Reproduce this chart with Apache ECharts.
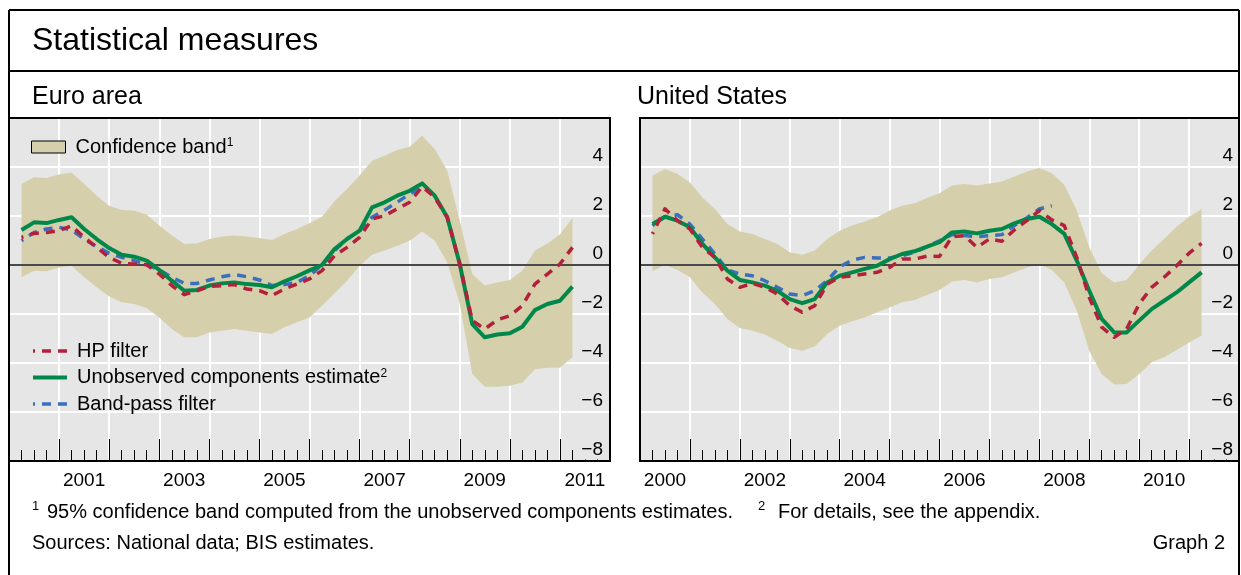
<!DOCTYPE html>
<html>
<head>
<meta charset="utf-8">
<script src="https://cdn.jsdelivr.net/npm/echarts@6/dist/echarts.min.js"></script>
<style>
html,body{margin:0;padding:0;background:#fff;}
#chart{width:1241px;height:575px;}
</style>
</head>
<body>
<div id="chart"></div>
<script>
// ---------- categories ----------
const lastQuarter = '2011Q1';
const quarters = [];
for (let y = 2000; y <= 2011; y++) {
  for (let q = 1; q <= 4; q++) {
    const s = y + 'Q' + q;
    quarters.push(s);
    if (s === lastQuarter) break;
  }
}
// quarterly observations plotted at quarter end
function qx(label) { return +label.slice(0, 4) + (+label.slice(5)) / 4; }

// ---------- tick labels ----------
const eaYearLabels = [2001, 2003, 2005, 2007, 2009, 2011];
const usYearLabels = [2000, 2002, 2004, 2006, 2008, 2010];

// ---------- Euro area ----------
const eaHP = [1.13,1.29,1.33,1.40,1.60,1.13,0.72,0.31,0.07,0.04,0.01,-0.37,-0.84,-1.21,-1.05,-0.88,-0.84,-0.80,-0.98,-1.05,-1.25,-0.98,-0.78,-0.57,
              -0.23,0.38,0.72,1.13,1.88,2.01,2.29,2.56,3.20,2.76,1.95,0.04,-2.27,-2.61,-2.24,-2.07,-1.66,-0.78,-0.37,0.04,0.72];
const eaUC = [1.43,1.74,1.71,1.84,1.95,1.47,1.06,0.69,0.42,0.34,0.18,-0.20,-0.64,-1.05,-1.02,-0.84,-0.75,-0.71,-0.78,-0.82,-0.91,-0.67,-0.46,-0.22,
              0.00,0.65,1.06,1.40,2.35,2.56,2.83,3.03,3.33,2.83,1.95,0.04,-2.41,-2.95,-2.84,-2.79,-2.52,-1.84,-1.59,-1.46,-0.88];
const eaBP = [0.99,1.33,1.47,1.54,1.43,1.06,0.75,0.48,0.31,0.18,0.01,-0.20,-0.50,-0.75,-0.75,-0.61,-0.48,-0.39,-0.48,-0.61,-0.84,-0.80,-0.71,-0.44,
              0.01,0.59,1.06,1.40,1.95,2.24,2.56,2.90,3.15];
const eaBandHigh = [3.31,3.58,3.55,3.69,3.78,3.31,2.83,2.42,2.24,2.22,2.05,1.61,1.20,0.86,0.88,1.06,1.16,1.20,1.16,1.10,1.02,1.27,1.47,1.70,
                    1.97,2.60,3.10,3.65,4.26,4.46,4.69,4.83,5.28,4.73,3.85,1.81,-0.37,-0.84,-0.71,-0.61,-0.23,0.59,0.88,1.24,1.92];
const eaBandLow = [-0.50,-0.23,-0.26,-0.10,-0.03,-0.50,-0.91,-1.29,-1.52,-1.59,-1.76,-2.14,-2.61,-2.95,-2.95,-2.75,-2.68,-2.61,-2.68,-2.75,-2.82,-2.54,-2.34,-2.14,
                   -1.66,-1.15,-0.64,-0.03,0.42,0.59,0.79,0.99,1.37,0.99,0.11,-1.59,-4.45,-4.97,-4.97,-4.93,-4.80,-4.26,-4.19,-4.19,-3.77];

// ---------- United States ----------
const usHP = [1.27,2.29,1.81,1.47,0.72,0.31,-0.57,-0.91,-0.75,-0.91,-1.18,-1.66,-1.93,-1.66,-0.78,-0.50,-0.44,-0.37,-0.30,-0.10,0.24,0.24,0.36,
              0.35,1.16,1.20,0.72,1.06,0.97,1.43,1.81,2.22,1.84,1.61,0.31,-1.32,-2.54,-2.95,-2.61,-1.59,-0.91,-0.50,-0.03,0.48,0.88];
const usUC = [1.67,1.97,1.81,1.54,0.86,0.31,-0.23,-0.61,-0.71,-0.84,-1.05,-1.39,-1.56,-1.39,-0.71,-0.44,-0.30,-0.16,-0.03,0.24,0.45,0.56,0.75,
              0.93,1.33,1.37,1.29,1.40,1.47,1.70,1.88,1.97,1.67,1.27,0.18,-1.05,-2.20,-2.75,-2.75,-2.27,-1.80,-1.46,-1.12,-0.71,-0.30];
const usBP = [1.61,1.97,2.05,1.67,1.06,0.45,-0.20,-0.37,-0.44,-0.64,-0.91,-1.18,-1.25,-1.05,-0.64,-0.07,0.20,0.31,0.29,0.29,0.38,0.52,0.75,
              0.99,1.24,1.20,1.16,1.20,1.24,1.61,1.92,2.29,2.42];
const usBandHigh = [3.65,3.92,3.71,3.37,2.76,2.29,1.67,1.37,1.27,1.06,0.86,0.52,0.42,0.59,1.06,1.40,1.61,1.78,1.95,2.22,2.42,2.52,2.73,
                    2.93,3.24,3.31,3.24,3.33,3.41,3.61,3.82,3.96,3.74,3.28,2.22,0.72,-0.34,-0.71,-0.61,0.01,0.59,1.06,1.56,1.97,2.29];
const usBandLow = [-0.26,0.01,-0.20,-0.50,-1.12,-1.59,-2.20,-2.57,-2.68,-2.84,-3.09,-3.39,-3.50,-3.33,-2.82,-2.48,-2.30,-2.14,-1.93,-1.73,-1.52,-1.43,-1.22,
                   -1.02,-0.67,-0.61,-0.71,-0.57,-0.50,-0.30,-0.10,0.04,-0.20,-0.71,-1.86,-3.50,-4.45,-4.88,-4.86,-4.45,-3.97,-3.77,-3.47,-3.16,-2.88];

// ---------- styles ----------
const FONT = '"Liberation Sans", Arial, Helvetica, sans-serif';
const BG = '#e6e6e6';
const BAND = '#d5cfab';
const GREEN = '#00884b';
const RED = '#b3203b';
const BLUE = '#3a6fbf';
const ZERO = '#4a4a4a';
const DASH = [9, 7];

function pairs(values) { return values.map((v, i) => [qx(quarters[i]), v]); }

function bandSeries(gi, high, low) {
  return {
    type: 'custom', name: 'Confidence band', xAxisIndex: gi, yAxisIndex: gi,
    silent: true, animation: false, clip: true,
    itemStyle: { color: BAND },
    data: high.map((h, i) => [qx(quarters[i]), low[i], h]),
    encode: { x: 0, y: [1, 2] },
    renderItem: function (params, api) {
      if (params.dataIndex !== 0) return null;
      const pts = [];
      for (let i = 0; i < high.length; i++) pts.push(api.coord([qx(quarters[i]), high[i]]));
      for (let i = low.length - 1; i >= 0; i--) pts.push(api.coord([qx(quarters[i]), low[i]]));
      return { type: 'polygon', shape: { points: pts }, style: { fill: BAND } };
    }
  };
}
function zeroSeries(gi) {
  return {
    type: 'line', name: 'zero', xAxisIndex: gi, yAxisIndex: gi, silent: true, animation: false,
    symbol: 'none', data: [[2000, 0], [2012, 0]],
    lineStyle: { color: ZERO, width: 2 }, emphasis: { disabled: true }
  };
}
function lineSeries(gi, name, values, color, width, dashed) {
  return {
    type: 'line', name: name, xAxisIndex: gi, yAxisIndex: gi, silent: true, animation: false,
    symbol: 'none', showSymbol: false, data: pairs(values),
    itemStyle: { color: color },
    lineStyle: { color: color, width: width, type: dashed ? DASH : 'solid', dashOffset: dashed ? 7 : 0, cap: 'butt', join: 'round' },
    emphasis: { disabled: true }
  };
}

function xAxis(gi, labels) {
  return {
    type: 'value', gridIndex: gi, position: 'bottom', min: 2000, max: 2012, interval: 1, z: 0,
    axisLine: { show: false, onZero: false },
    axisTick: { show: true, inside: true, length: 22, lineStyle: { color: '#000', width: 1 } },
    minorTick: { show: true, splitNumber: 4, length: 11, lineStyle: { color: '#000', width: 1 } },
    splitLine: { show: true, lineStyle: { color: '#fff', width: 2 } },
    axisLabel: {
      customValues: labels, formatter: v => String(Math.round(v)),
      color: '#000', fontSize: 19, lineHeight: 19, fontFamily: FONT, margin: 10,
      padding: [0, 0, 0, 50]
    }
  };
}
function yAxis(gi, margin) {
  return {
    type: 'value', gridIndex: gi, position: 'right', min: -8, max: 6, interval: 2, z: 1,
    axisLine: { show: false, onZero: false }, axisTick: { show: false },
    splitLine: { show: true, lineStyle: { color: '#fff', width: 2 } },
    axisLabel: {
      inside: true, margin: margin, showMaxLabel: false, showMinLabel: true,
      verticalAlign: 'bottom', color: '#000', fontSize: 19, lineHeight: 18, fontFamily: FONT,
      padding: [0, 0, 2, 0],
      formatter: function (v) {
        const s = String(v).replace('-', '\u2212');
        return v === -8 ? '{m|' + s + '}' : s;
      },
      rich: { m: { backgroundColor: BG, padding: [0, 0, 0, 7], fontSize: 19, lineHeight: 18, fontFamily: FONT, color: '#000' } }
    }
  };
}

const txt = (text, x, y, size, align) => ({
  type: 'text', z: 100, silent: true,
  style: { text: text, x: x, y: y, fill: '#000', fontSize: size, fontFamily: FONT, align: align || 'left', verticalAlign: 'middle' }
});
const hline = (x1, x2, y) => ({ type: 'line', z: 100, silent: true, shape: { x1: x1, y1: y, x2: x2, y2: y }, style: { stroke: '#000', lineWidth: 2 } });
const vline = (x, y1, y2) => ({ type: 'line', z: 100, silent: true, shape: { x1: x, y1: y1, x2: x, y2: y2 }, style: { stroke: '#000', lineWidth: 2 } });
const box = (x, y, w, h) => ({ type: 'rect', z: 100, silent: true, shape: { x: x, y: y, width: w, height: h }, style: { fill: 'none', stroke: '#000', lineWidth: 2 } });

const option = {
  animation: false,
  backgroundColor: '#fff',
  textStyle: { fontFamily: FONT },
  grid: [
    { left: 9, top: 118, width: 601, height: 343, show: true, backgroundColor: BG, borderWidth: 0, containLabel: false, outerBoundsMode: 'none' },
    { left: 640, top: 118, width: 599, height: 343, show: true, backgroundColor: BG, borderWidth: 0, containLabel: false, outerBoundsMode: 'none' }
  ],
  xAxis: [xAxis(0, eaYearLabels), xAxis(1, usYearLabels)],
  yAxis: [yAxis(0, 7), yAxis(1, 6)],
  legend: [
    {
      left: 31, top: 137, orient: 'vertical', padding: 0, selectedMode: false,
      itemWidth: 34, itemHeight: 12,
      data: [{ name: 'Confidence band', icon: 'rect', itemStyle: { color: BAND, borderColor: '#000', borderWidth: 1 } }],
      formatter: name => name + '{sup|1}',
      textStyle: {
        color: '#000', fontSize: 20, lineHeight: 20, fontFamily: FONT, padding: [0, 0, 0, 5],
        rich: { sup: { fontSize: 12, verticalAlign: 'top', fontFamily: FONT, color: '#000' } }
      }
    },
    {
      left: 31, top: 341, orient: 'vertical', padding: 0, selectedMode: false,
      itemWidth: 34, itemHeight: 14, itemGap: 6.5,
      data: [
        { name: 'HP filter', itemStyle: { opacity: 0 }, lineStyle: { width: 3.5 } },
        { name: 'Unobserved components estimate', itemStyle: { opacity: 0 }, lineStyle: { width: 4 } },
        { name: 'Band-pass filter', itemStyle: { opacity: 0 }, lineStyle: { width: 3.5 } }
      ],
      formatter: name => name === 'Unobserved components estimate' ? name + '{sup|2}' : name,
      textStyle: {
        color: '#000', fontSize: 20, lineHeight: 20, fontFamily: FONT, padding: [0, 0, 0, 5],
        rich: { sup: { fontSize: 12, verticalAlign: 'top', fontFamily: FONT, color: '#000' } }
      }
    }
  ],
  series: [
    bandSeries(0, eaBandHigh, eaBandLow),
    zeroSeries(0),
    lineSeries(0, 'Band-pass filter', eaBP, BLUE, 3.5, true),
    lineSeries(0, 'Unobserved components estimate', eaUC, GREEN, 4, false),
    lineSeries(0, 'HP filter', eaHP, RED, 3.5, true),
    bandSeries(1, usBandHigh, usBandLow),
    zeroSeries(1),
    lineSeries(1, 'Band-pass filter', usBP, BLUE, 3.5, true),
    lineSeries(1, 'Unobserved components estimate', usUC, GREEN, 4, false),
    lineSeries(1, 'HP filter', usHP, RED, 3.5, true)
  ],
  graphic: [
    hline(9, 1239, 10),
    hline(9, 1239, 71),
    vline(9, 10, 575),
    vline(1239, 10, 575),
    box(9, 118, 601, 343),
    box(640, 118, 599, 343),
    txt('Statistical measures', 32, 41, 32),
    txt('Euro area', 32, 97, 25),
    txt('United States', 637, 97, 25),
    txt('1', 32, 506, 13),
    txt('95% confidence band computed from the unobserved components estimates.', 47, 512, 20),
    txt('2', 758, 506, 13),
    txt('For details, see the appendix.', 778, 512, 20),
    txt('Sources: National data; BIS estimates.', 32, 543, 20),
    txt('Graph 2', 1225, 543, 20, 'right')
  ]
};

const chart = echarts.init(document.getElementById('chart'), null, { renderer: 'canvas', width: 1241, height: 575 });
chart.setOption(option);
</script>
</body>
</html>
